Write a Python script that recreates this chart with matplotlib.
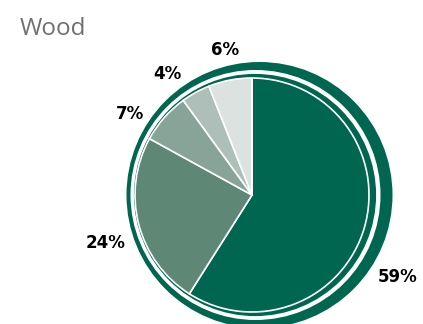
import numpy as np
import matplotlib
matplotlib.use("Agg")
from matplotlib import pyplot as plt
from matplotlib.patches import Circle

# slice data, clockwise from 12 o'clock
shares = [59, 24, 7, 4, 6]
labels = ["59%", "24%", "7%", "4%", "6%"]
colors = ["#00664f", "#5e8776", "#88a397", "#aebeb8", "#dce2df"]
title = "Wood"

W, H = 423, 324
fig = plt.figure(figsize=(W / 100, H / 100), dpi=100)
ax = fig.add_axes([0, 0, 1, 1])

cx, cy, r = 252, 129, 117        # main pie

# outer ring + inner halo (slightly off-centre, like the original)
ax.add_patch(Circle((259.5, cy), 133, fc=colors[0], ec="none", zorder=0))
ax.add_patch(Circle((255.5, cy), 125, fc="white", ec="none", zorder=0.2))
ax.add_patch(Circle((255, cy), 122, fc=colors[0], ec="white", lw=1.3, zorder=0.4))

wedges, _ = ax.pie(shares, radius=r, center=(cx, cy), startangle=90,
                   counterclock=False, colors=colors,
                   wedgeprops=dict(ec="white", lw=1.2))

# label placement: mid angle + small nudges
ang_shift = [-12.9, 3.5, 7.7, 5.9, -0.3]
dist = [167, 154, 147, 148, 148]
for w, lab, da, d in zip(wedges, labels, ang_shift, dist):
    th = np.deg2rad((w.theta1 + w.theta2) / 2 + da)
    x = cx + d * np.cos(th)
    y = cy + d * np.sin(th) - 6
    ax.text(x, y, lab, ha="center", va="baseline", fontsize=12, fontweight="bold",
            family=["DejaVu Sans"], color="black")

ax.text(20, H - 35, title, ha="left", va="baseline", fontsize=17.5,
        family=["Open Sans", "DejaVu Sans"], color="#707070")

ax.set_xlim(0, W)
ax.set_ylim(0, H)
ax.set_aspect("equal")
ax.axis("off")

fig.savefig("out.png", dpi=100)
